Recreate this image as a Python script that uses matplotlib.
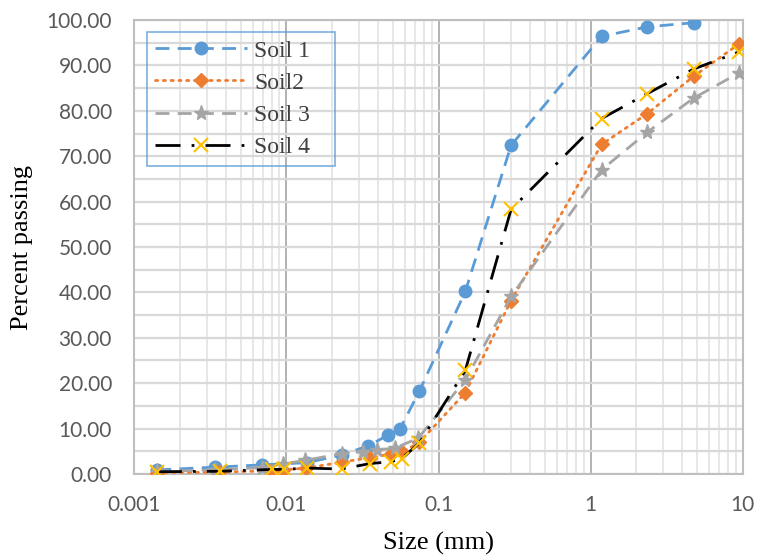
import matplotlib
matplotlib.use("Agg")
import matplotlib.pyplot as plt
from matplotlib.ticker import FixedLocator, NullFormatter, FuncFormatter

# ---- data ----
soil1_x = [0.00142, 0.0034, 0.0069, 0.0137, 0.0231, 0.0346, 0.0468, 0.0558, 0.075, 0.15, 0.3, 1.18, 2.36, 4.75]
soil1_y = [0.9, 1.5, 2.0, 2.5, 4.2, 6.2, 8.6, 9.9, 18.3, 40.2, 72.4, 96.4, 98.5, 99.4]

soil2_x = [0.00142, 0.0036, 0.0078, 0.0095, 0.0135, 0.0231, 0.0355, 0.0487, 0.0573, 0.075, 0.15, 0.3, 1.18, 2.36, 4.75, 9.5]
soil2_y = [0.3, 0.4, 0.7, 0.9, 1.3, 2.6, 3.6, 4.4, 4.8, 7.0, 17.9, 38.2, 72.6, 79.4, 87.6, 94.8]

soil3_x = [0.00142, 0.0034, 0.0069, 0.0095, 0.0133, 0.0231, 0.0319, 0.0393, 0.0517, 0.0736, 0.15, 0.3, 1.18, 2.36, 4.75, 9.5]
soil3_y = [0.6, 0.9, 1.4, 2.2, 3.0, 4.5, 4.9, 5.3, 5.7, 7.9, 20.7, 39.1, 67.0, 75.3, 82.8, 88.4]

soil4_x = [0.00141, 0.00367, 0.0080, 0.0097, 0.0136, 0.0231, 0.0355, 0.0487, 0.0573, 0.0747, 0.15, 0.3, 1.18, 2.36, 4.75, 9.5]
soil4_y = [0.5, 0.6, 1.0, 1.0, 1.3, 1.1, 2.3, 2.7, 3.4, 6.8, 22.8, 58.3, 78.3, 83.8, 89.2, 93.0]

labels = ["Soil 1", "Soil2", "Soil 3", "Soil 4"]
x_ticks = [0.001, 0.01, 0.1, 1, 10]
x_tick_labels = ["0.001", "0.01", "0.1", "1", "10"]
y_ticks = [0, 10, 20, 30, 40, 50, 60, 70, 80, 90, 100]

fig = plt.figure(figsize=(7.58, 5.56), dpi=100)
ax = fig.add_axes([0.177, 0.1475, 0.803, 0.8165])

lw = 2.0
ax.plot(soil1_x, soil1_y, color="#5B9BD5", lw=lw, dashes=(5, 3), marker="o",
        markersize=9, markerfacecolor="#5B9BD5", markeredgecolor="#5B9BD5", label=labels[0], zorder=3)
ax.plot(soil2_x, soil2_y, color="#ED7D31", lw=lw, dashes=(0.8, 2.0), dash_capstyle="round", marker="D",
        markersize=7.5, markerfacecolor="#ED7D31", markeredgecolor="#ED7D31", label=labels[1], zorder=3)
ax.plot(soil3_x, soil3_y, color="#A5A5A5", lw=lw, dashes=(5, 3), marker="*",
        markersize=11, markerfacecolor="#A5A5A5", markeredgecolor="#A5A5A5", label=labels[2], zorder=3)
ax.plot(soil4_x, soil4_y, color="black", lw=lw, dashes=(9, 4, 1, 4), marker="x",
        markersize=10, markeredgewidth=1.5, markeredgecolor="#FFC000", label=labels[3], zorder=4)

ax.set_xscale("log")
ax.set_xlim(0.001, 10)
ax.set_ylim(0, 100)

ax.xaxis.set_major_locator(FixedLocator(x_ticks))
ax.set_xticklabels(x_tick_labels)
minor = [m * 10.0**e for e in range(-3, 1) for m in range(2, 10)]
ax.xaxis.set_minor_locator(FixedLocator(minor))
ax.xaxis.set_minor_formatter(NullFormatter())
ax.set_yticks(y_ticks)
ax.yaxis.set_major_formatter(FuncFormatter(lambda v, p: f"{v:.2f}"))
ax.yaxis.set_minor_locator(FixedLocator([5, 15, 25, 35, 45, 55, 65, 75, 85, 95]))

ax.grid(True, which="major", axis="y", color="#D9D9D9", lw=1.6)
ax.grid(True, which="minor", axis="y", color="#D9D9D9", lw=1.6)
ax.grid(True, which="major", axis="x", color="#A6A6A6", lw=1.2)
ax.grid(True, which="minor", axis="x", color="#E3E3E3", lw=1.2)
ax.set_axisbelow(True)

for s in ax.spines.values():
    s.set_color("#BFBFBF")
    s.set_linewidth(1.5)

ax.tick_params(which="both", length=0, labelsize=15, labelcolor="#595959")
ax.tick_params(axis="y", pad=16)
ax.tick_params(axis="x", pad=15)
for t in ax.get_xticklabels() + ax.get_yticklabels():
    t.set_family(["Lato", "DejaVu Sans"])

ax.set_xlabel("Size (mm)", family=["Liberation Serif"], fontsize=19, labelpad=12)
ax.set_ylabel("Percent passing", family=["Liberation Serif"], fontsize=19, labelpad=10)

leg = ax.legend(loc="upper left", bbox_to_anchor=(0.021, 0.5, 0.309, 0.474), borderaxespad=0,
                mode="expand", frameon=True, fancybox=False,
                prop={"family": "Liberation Serif", "size": 17}, handlelength=3.9,
                borderpad=0.35, labelspacing=0.45, handletextpad=0.3)
leg.get_frame().set_facecolor("none")
leg.get_frame().set_edgecolor("#5B9BD5")
leg.get_frame().set_linewidth(1.2)
for t in leg.get_texts():
    t.set_color("#404040")

fig.savefig("out.png", dpi=100)
